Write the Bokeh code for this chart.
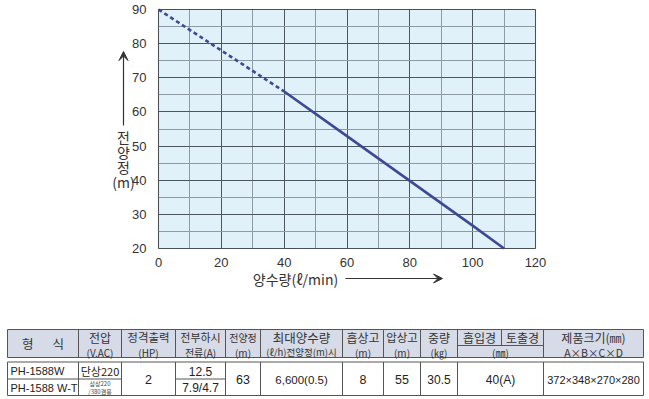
from bokeh.plotting import figure
from bokeh.models import (Range1d, FixedTicker, Label, Arrow, VeeHead,
                          ColumnDataSource, BoxAnnotation)
from bokeh.embed import file_html
from bokeh.resources import INLINE
from bokeh.core.properties import value

# ---------------- data ----------------
flow_dashed = [0, 40]
head_dashed = [90, 66]
flow_solid = [40, 60, 80, 100, 110]
head_solid = [66, 52.9, 39.8, 26.7, 20]

x_ticks = [0, 20, 40, 60, 80, 100, 120]
y_ticks = [20, 30, 40, 50, 60, 70, 80, 90]
x_title = "양수량(ℓ/min)"
y_title_parts = ["전", "양", "정", "(m)"]

header_main = ["형\u3000\u2002식", "전압", "정격출력", "전부하시", "전양정", "최대양수량",
               "흡상고", "압상고", "중량", "흡입경", "토출경", "제품크기(㎜)"]
header_sub = ["(V.AC)", "(HP)", "전류(A)", "(m)", "(ℓ/h)전양정(m)시",
              "(m)", "(m)", "(㎏)", "(㎜)", "A×B×C×D"]
models = ["PH-1588W", "PH-1588 W-T"]
voltage = ["단상220", "삼상220", "/380겸용"]
rated_hp = "2"
full_load_current = ["12.5", "7.9/4.7"]
total_head = "63"
max_flow = "6,600(0.5)"
suction_head = "8"
discharge_head = "55"
weight = "30.5"
bore = "40(A)"
dimensions = "372×348×270×280"

KR = "Noto Sans CJK KR"
NUM = "Liberation Sans"
TXT = "#333333"

# ---------------- layout geometry (canvas pixels) ----------------
W, H = 645, 397
FL, FR, FT, FB = 158, 535, 9, 248          # chart plot-area box in canvas px
X0, X1, Y0, Y1 = 0, 120, 20, 90             # chart data extents
sx = (FR - FL) / (X1 - X0)
sy = (FB - FT) / (Y1 - Y0)
xr = Range1d(X0 - FL / sx, X1 + (W - FR) / sx)
yr = Range1d(Y0 - (H - FB) / sy, Y1 + FT / sy)

p = figure(width=W, height=H, x_range=xr, y_range=yr,
           output_backend="svg", toolbar_location=None, min_border=0)
p.extra_x_ranges = {"px": Range1d(0, W)}
p.extra_y_ranges = {"px": Range1d(H, 0)}
p.background_fill_color = "white"
p.border_fill_color = "white"
p.outline_line_color = None

# plot area background and frame
p.add_layout(BoxAnnotation(left=X0, right=X1, bottom=Y0, top=Y1, fill_color="#e0f1fa",
                           fill_alpha=1, line_color=None, level="image"))
p.add_layout(BoxAnnotation(left=X0, right=X1, bottom=Y0, top=Y1, fill_alpha=0,
                           line_color="#444444", line_width=1.2, level="overlay"))

p.xaxis.ticker = FixedTicker(ticks=x_ticks, minor_ticks=[t + 10 for t in x_ticks[:-1]])
p.yaxis.ticker = FixedTicker(ticks=y_ticks, minor_ticks=[t + 5 for t in y_ticks[:-1]])
p.xaxis.fixed_location = Y0
p.yaxis.fixed_location = X0
for ax in (p.xaxis, p.yaxis):
    ax.axis_line_color = None
    ax.major_tick_line_color = None
    ax.minor_tick_line_color = None
    ax.major_label_text_font = NUM
    ax.major_label_text_font_size = "13px"
    ax.major_label_text_color = TXT
p.yaxis.major_label_standoff = 6
p.xaxis.major_label_standoff = 3

p.xgrid.bounds = (X0, X1)
p.ygrid.bounds = (Y0, Y1)
p.xgrid.cross_bounds = (Y0, Y1)
p.ygrid.cross_bounds = (X0, X1)
for g in (p.xgrid, p.ygrid):
    g.grid_line_color = "#4c565e"
    g.grid_line_width = 1
    g.minor_grid_line_color = "#8e9ba4"
    g.minor_grid_line_width = 1

p.line(flow_dashed, head_dashed, line_color="#3d4897", line_width=2.6, line_dash="4 3")
p.line(flow_solid, head_solid, line_color="#3d4897", line_width=2.6)

# y title (stacked) + arrow, in canvas px
for txt, yv in zip(y_title_parts, [136, 151, 166, 181]):
    p.add_layout(Label(x=123, y=yv, x_range_name="px", y_range_name="px", text=txt,
                       text_align="center", text_baseline="middle",
                       text_font=KR, text_font_size="14px", text_color=TXT))
p.add_layout(Arrow(end=VeeHead(size=9, fill_color="#333333", line_color="#333333"),
                   x_start=123, y_start=125, x_end=123, y_end=51,
                   x_range_name="px", y_range_name="px",
                   line_color="#333333", line_width=1.2))
# x title + arrow
p.add_layout(Label(x=295, y=278, x_range_name="px", y_range_name="px", text=x_title,
                   text_align="center", text_baseline="middle",
                   text_font=KR, text_font_size="14px", text_color=TXT))
p.add_layout(Arrow(end=VeeHead(size=9, fill_color="#333333", line_color="#333333"),
                   x_start=345, y_start=278, x_end=442, y_end=278,
                   x_range_name="px", y_range_name="px",
                   line_color="#333333", line_width=1.2))

# ---------------- table (canvas px) ----------------
R = dict(x_range_name="px", y_range_name="px")
B = [7, 78, 121, 175, 225, 260, 342, 383, 420, 457, 543, 643]
SPLIT = 501
H_TOP, H_MID, H_BOT = 329, 345, 357
B_TOP, B_MID, B_BOT = 361.5, 378.5, 395
LC = "#555555"

p.quad(left=[B[0]], right=[B[-1]], top=[H_TOP], bottom=[H_BOT], fill_color="#d7dbe7",
       line_color=None, **R)

hx0 = [B[0], B[0], B[0], B[0], B[0], B[3], B[9]]
hx1 = [B[-1], B[-1], B[-1], B[-1], B[2], B[4], B[10]]
hy = [H_TOP, H_BOT, B_TOP, B_BOT, B_MID, B_MID, H_MID]
p.segment(x0=hx0, y0=hy, x1=hx1, y1=hy, line_color=LC, line_width=1, **R)
vx = B + B + [SPLIT]
vy0 = [H_TOP] * len(B) + [B_TOP] * len(B) + [H_TOP]
vy1 = [H_BOT] * len(B) + [B_BOT] * len(B) + [H_MID]
p.segment(x0=vx, y0=vy0, x1=vx, y1=vy1, line_color=LC, line_width=1, **R)

def c(i):
    return (B[i] + B[i + 1]) / 2

def put(xs, ys, texts, font, sizes, color=TXT, align="center"):
    if isinstance(sizes, str):
        sizes = [sizes] * len(xs)
    p.text(x="x", y="y", text="t", text_font_size="s",
           source=ColumnDataSource(dict(x=xs, y=ys, t=texts, s=sizes)),
           text_align=align, text_baseline="middle", text_font=value(font),
           text_color=color, **R)

mx = [c(0), c(1), c(2), c(3), c(4), c(5), c(6), c(7), c(8),
      (B[9] + SPLIT) / 2, (SPLIT + B[10]) / 2, c(10)]
my = [343] + [336.5] * 8 + [337, 337, 336.5]
msz = ["12.5px", "12px", "11.5px", "11px", "10px", "12.5px", "12px", "11.5px", "12px",
       "12px", "12px", "12px"]
put(mx, my, header_main, KR, msz)
subx = [c(1), c(2), c(3), c(4), c(5), c(6), c(7), c(8), c(9), c(10)]
ssz = ["10px", "10px", "10px", "10px", "9.5px", "10px", "10px", "10px", "10px", "10.5px"]
put(subx, [351.5] * len(subx), header_sub, KR, ssz)

BODY = "#222222"
put([10, 10], [370.5, 387], models, NUM, "11px", BODY, "left")
put([c(1)], [370.5], voltage[:1], KR, "11px", BODY)
put([c(1), c(1)], [383, 390.5], voltage[1:], KR, "6px", "#444444")
put([c(3), c(3)], [370.5, 387], full_load_current, NUM, "12px", BODY)
merged_vals = [rated_hp, total_head, max_flow, suction_head, discharge_head, weight, bore]
merged_x = [c(2), c(4), c(5), c(6), c(7), c(8), c(9)]
put(merged_x, [379] * len(merged_x), merged_vals, NUM,
    ["12.5px", "12.5px", "11.5px", "12.5px", "12.5px", "12px", "12px"], BODY)
put([c(10)], [379], [dimensions], NUM, "11px", BODY)

open("out.html", "w").write(file_html(p, INLINE))
